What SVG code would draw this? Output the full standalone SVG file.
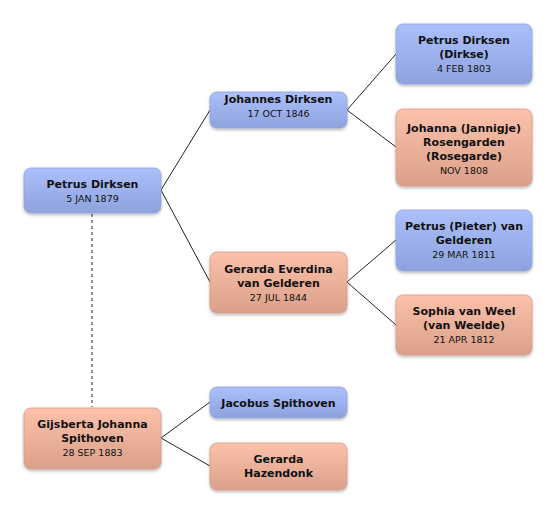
<svg xmlns="http://www.w3.org/2000/svg" width="556" height="515" viewBox="0 0 556 515">
<defs>
<linearGradient id="gb" x1="0" y1="0" x2="0" y2="1"><stop offset="0" stop-color="#abc0fa"/><stop offset="1" stop-color="#8ea3de"/></linearGradient>
<linearGradient id="gp" x1="0" y1="0" x2="0" y2="1"><stop offset="0" stop-color="#fcc1aa"/><stop offset="1" stop-color="#dba08b"/></linearGradient>
<filter id="sh" x="-10%" y="-10%" width="120%" height="130%"><feDropShadow dx="0" dy="1.5" stdDeviation="1.5" flood-color="#000" flood-opacity="0.3"/></filter>
</defs>
<style>
.b rect{fill:url(#gb);stroke:#8fa2d8;stroke-width:0.8;filter:url(#sh)}
.p rect{fill:url(#gp);stroke:#d49c88;stroke-width:0.8;filter:url(#sh)}
text{font-family:"DejaVu Sans","Liberation Sans",sans-serif;text-anchor:middle;fill:#111}
.n{font-size:11px;font-weight:bold}
.d{font-size:9.5px}
.c line{stroke:#222;stroke-width:1}
.dot{stroke:#777;stroke-width:2;stroke-dasharray:3 3}
</style>
<rect width="556" height="515" fill="#fff"/>
<g class="c" id="connectors">
<line x1="161" y1="190" x2="210" y2="110"/>
<line x1="161" y1="190" x2="210" y2="282"/>
<line x1="347" y1="110" x2="396" y2="54"/>
<line x1="347" y1="110" x2="396" y2="147"/>
<line x1="347" y1="282" x2="396" y2="240"/>
<line x1="347" y1="282" x2="396" y2="325"/>
<line x1="161" y1="438" x2="210" y2="402"/>
<line x1="161" y1="438" x2="210" y2="466"/>
<line class="dot" x1="92" y1="214" x2="92" y2="407"/>
</g>
<g id="n1" class="b"><rect x="24" y="168" width="137" height="45" rx="7"/><text class="n" x="92.5" y="188">Petrus Dirksen</text><text class="d" x="92.5" y="202">5 JAN 1879</text></g>
<g id="n2" class="b"><rect x="210" y="92" width="137" height="36" rx="7"/><text class="n" x="278.5" y="103">Johannes Dirksen</text><text class="d" x="278.5" y="117">17 OCT 1846</text></g>
<g id="n3" class="b"><rect x="396" y="24" width="136" height="60" rx="7"/><text class="n" x="464" y="44">Petrus Dirksen</text><text class="n" x="464" y="58">(Dirkse)</text><text class="d" x="464" y="72">4 FEB 1803</text></g>
<g id="n4" class="p"><rect x="396" y="109" width="136" height="77" rx="7"/><text class="n" x="464" y="132">Johanna (Jannigje)</text><text class="n" x="464" y="146">Rosengarden</text><text class="n" x="464" y="160">(Rosegarde)</text><text class="d" x="464" y="174">NOV 1808</text></g>
<g id="n5" class="p"><rect x="210" y="252" width="137" height="61" rx="7"/><text class="n" x="278.5" y="273">Gerarda Everdina</text><text class="n" x="278.5" y="287">van Gelderen</text><text class="d" x="278.5" y="301">27 JUL 1844</text></g>
<g id="n6" class="b"><rect x="396" y="210" width="136" height="61" rx="7"/><text class="n" x="464" y="230">Petrus (Pieter) van</text><text class="n" x="464" y="244">Gelderen</text><text class="d" x="464" y="258">29 MAR 1811</text></g>
<g id="n7" class="p"><rect x="396" y="295" width="136" height="60" rx="7"/><text class="n" x="464" y="315">Sophia van Weel</text><text class="n" x="464" y="329">(van Weelde)</text><text class="d" x="464" y="343">21 APR 1812</text></g>
<g id="n8" class="p"><rect x="24" y="408" width="137" height="61" rx="7"/><text class="n" x="92.5" y="428">Gijsberta Johanna</text><text class="n" x="92.5" y="442">Spithoven</text><text class="d" x="92.5" y="456">28 SEP 1883</text></g>
<g id="n9" class="b"><rect x="210" y="387" width="137" height="31" rx="7"/><text class="n" x="278.5" y="407">Jacobus Spithoven</text></g>
<g id="n10" class="p"><rect x="210" y="443" width="137" height="47" rx="7"/><text class="n" x="278.5" y="463">Gerarda</text><text class="n" x="278.5" y="477">Hazendonk</text></g>
</svg>
